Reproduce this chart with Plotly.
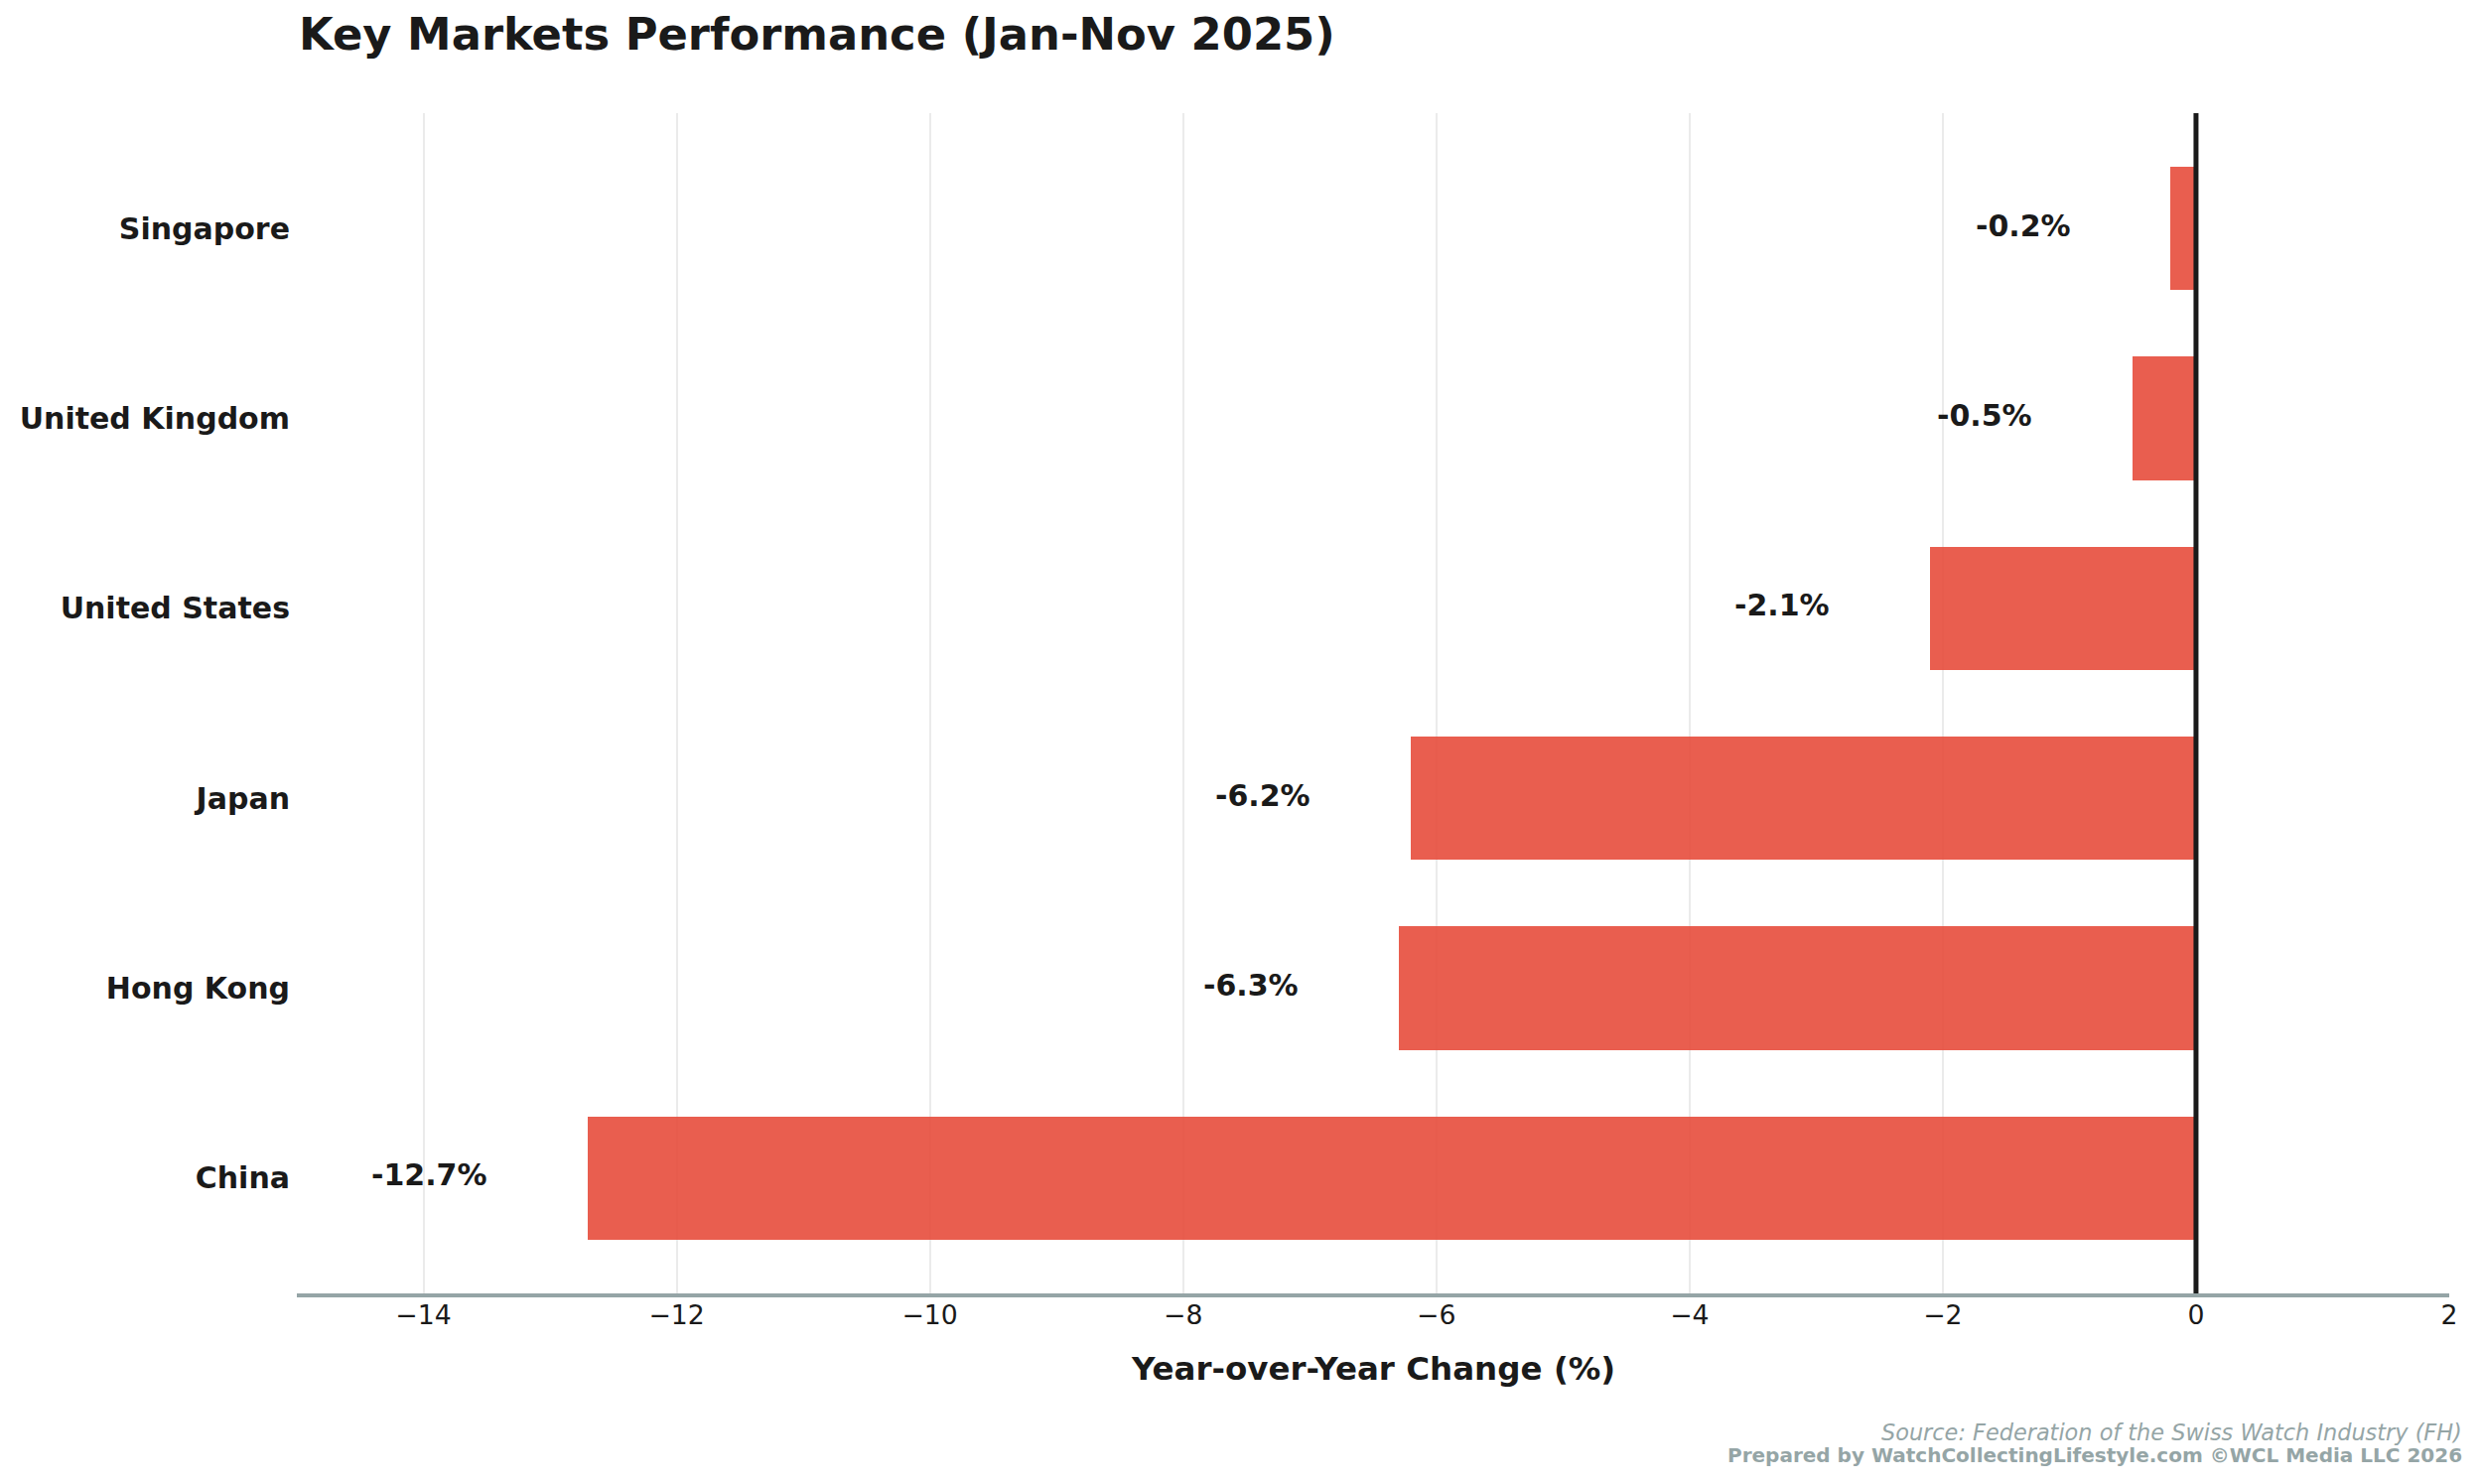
import plotly.graph_objects as go

# ---- data ----
markets = ["China", "Hong Kong", "Japan", "United States", "United Kingdom", "Singapore"]
yoy_change = [-12.7, -6.3, -6.2, -2.1, -0.5, -0.2]
x_ticks = [-14, -12, -10, -8, -6, -4, -2, 0, 2]
x_tick_text = ["\u221214", "\u221212", "\u221210", "\u22128", "\u22126", "\u22124", "\u22122", "0", "2"]

title_text = "Key Markets Performance (Jan-Nov 2025)"
x_title_text = "Year-over-Year Change (%)"
source_text = "Source: Federation of the Swiss Watch Industry (FH)"
prepared_text = "Prepared by WatchCollectingLifestyle.com \u00a9WCL Media LLC 2026"

# page body has an 8px default margin; compensate
OFF = 8
W, H = 2500 - OFF, 1495 - OFF
L, R, T, B = 297 - OFF, 33, 114 - OFF, 192
PW, PH = W - L - R, H - T - B

def px(x):
    return (x - OFF - L) / PW

def py(y):
    return (H - B - (y - OFF)) / PH

FONT = "DejaVu Sans"
DARK = "#1a1a1a"
GRAY = "#95a5a6"

fig = go.Figure()
fig.add_trace(go.Bar(
    y=markets,
    x=yoy_change,
    orientation="h",
    width=0.65,
    marker=dict(color="rgba(231,76,60,0.9)", line=dict(width=0)),
    hoverinfo="x+y",
))

annotations = []
for m, v in zip(markets, yoy_change):
    annotations.append(dict(
        x=v - 0.775, y=m, xref="x", yref="y",
        text=f"{v:.1f}%", showarrow=False,
        xanchor="right", yanchor="middle", yshift=3,
        font=dict(family=FONT, size=30, color=DARK, weight="bold"),
    ))

annotations += [
    dict(x=px(297), y=py(34), xref="paper", yref="paper", text=title_text,
         showarrow=False, xanchor="left", yanchor="middle",
         font=dict(family=FONT, size=44.8, color=DARK, weight="bold")),
    dict(x=0.5, y=py(1379), xref="paper", yref="paper", text=x_title_text,
         showarrow=False, xanchor="center", yanchor="middle",
         font=dict(family=FONT, size=32.5, color=DARK, weight="bold")),
    dict(x=px(2482), y=py(1443), xref="paper", yref="paper", text=source_text,
         showarrow=False, xanchor="right", yanchor="middle",
         font=dict(family=FONT, size=22.4, color=GRAY, style="italic")),
    dict(x=px(2482), y=py(1466), xref="paper", yref="paper", text=prepared_text,
         showarrow=False, xanchor="right", yanchor="middle",
         font=dict(family=FONT, size=20, color=GRAY, weight="bold")),
]

fig.add_shape(type="line", xref="x", yref="paper", x0=0, x1=0, y0=0, y1=1,
              line=dict(color=DARK, width=5), layer="above")

fig.update_layout(
    width=W, height=H,
    margin=dict(l=L, r=R, t=T, b=B, pad=0),
    paper_bgcolor="white", plot_bgcolor="white",
    showlegend=False,
    annotations=annotations,
    bargap=0,
)
fig.update_xaxes(
    range=[-15, 2],
    tickvals=x_ticks, ticktext=x_tick_text,
    showgrid=True, gridcolor="#ebebeb", gridwidth=2,
    zeroline=False,
    showline=True, linecolor=GRAY, linewidth=4,
    ticks="", ticklabelstandoff=-5,
    tickfont=dict(family=FONT, size=26.7, color=DARK),
)
fig.update_yaxes(
    type="category",
    categoryorder="array", categoryarray=markets,
    range=[-0.6075, 5.6075],
    showgrid=False, zeroline=False, showline=False,
    ticks="", ticklabelstandoff=6,
    tickfont=dict(family=FONT, size=30, color=DARK, weight="bold"),
)

fig.write_html("out.html")
